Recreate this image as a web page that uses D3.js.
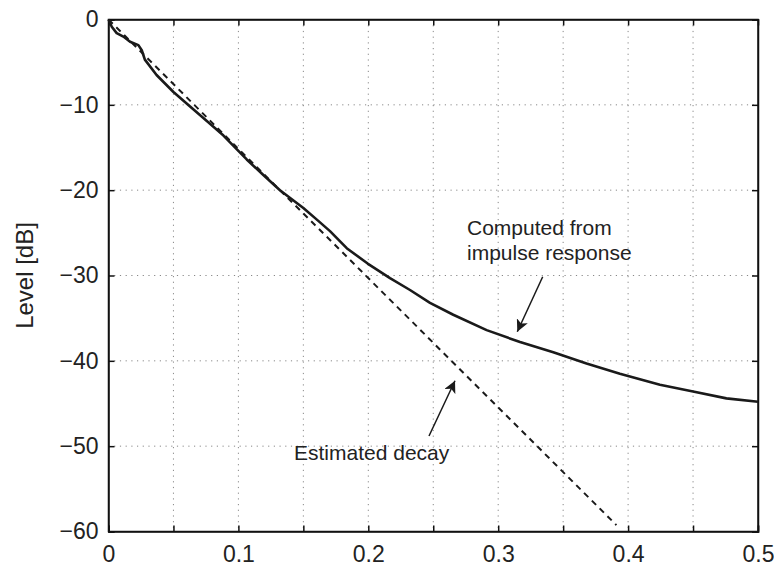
<!DOCTYPE html>
<html>
<head>
<meta charset="utf-8">
<script src="https://cdn.jsdelivr.net/npm/d3@7"></script>
<style>
  body { margin: 0; background: #fff; }
  text { font-family: "Liberation Sans", Arial, sans-serif; fill: #222; }
</style>
</head>
<body>
<div id="chart"></div>
<script>
// decay curve (time in s, level in dB)
const decayTime = [0, 0.0025, 0.0063, 0.0114, 0.0166, 0.023, 0.0256, 0.028, 0.037, 0.05,
    0.0628, 0.0757, 0.0885, 0.0962, 0.1064, 0.119, 0.132, 0.15, 0.1615, 0.1705,
    0.1834, 0.1995, 0.2167, 0.2321, 0.2475, 0.2654, 0.2911, 0.3168, 0.3424, 0.368,
    0.3937, 0.4245, 0.45, 0.4757, 0.5]
const decayLevel = [0, -0.84, -1.6, -2.0, -2.6, -3.0, -3.6, -4.7, -6.5, -8.5,
    -10.2, -11.9, -13.6, -14.8, -16.4, -18.2, -20.0, -22.1, -23.6, -24.8,
    -26.8, -28.6, -30.3, -31.7, -33.2, -34.6, -36.4, -37.8, -39.0, -40.3,
    -41.5, -42.8, -43.6, -44.4, -44.8]

// straight-line estimate
const fitTime = [0, 0.391]
const fitLevel = [0, -59.25]

const xTicks = [0, 0.1, 0.2, 0.3, 0.4, 0.5]
const xGrid = [0.05, 0.1, 0.15, 0.2, 0.25, 0.3, 0.35, 0.4, 0.45]
const yTicks = [0, -10, -20, -30, -40, -50, -60]

// set the dimensions and margins of the graph
let margin = {top: 19.5, right: 16, bottom: 34.5, left: 108.5},
    width = 774 - margin.left - margin.right,
    height = 566 - margin.top - margin.bottom;

let svg = d3.select("#chart")
    .append("svg")
    .attr("width", 774)
    .attr("height", 566)
    .append("g")
    .attr("transform", "translate(" + margin.left + "," + margin.top + ")");

const x = d3.scaleLinear().domain([0, 0.5]).range([0, width])
const y = d3.scaleLinear().domain([-60, 0]).range([height, 0])

// dotted grid
svg.append("g")
    .selectAll("line")
    .data(xGrid)
    .join("line")
    .attr("x1", d => x(d)).attr("x2", d => x(d))
    .attr("y1", 0).attr("y2", height)
    .attr("stroke", "#888").attr("stroke-width", 1)
    .attr("stroke-dasharray", "1.2,4.5")
svg.append("g")
    .selectAll("line")
    .data(yTicks.slice(1, -1))
    .join("line")
    .attr("x1", 0).attr("x2", width)
    .attr("y1", d => y(d)).attr("y2", d => y(d))
    .attr("stroke", "#888").attr("stroke-width", 1)
    .attr("stroke-dasharray", "1.2,4.5")

// axes, ticks pointing inside
const tickFmt = d => d3.format("")(d).replace("-", "\u2212")
svg.append("g")
    .attr("transform", "translate(0," + height + ")")
    .call(d3.axisBottom(x).tickValues(xGrid.concat([0, 0.5])).tickSize(-6).tickPadding(14)
        .tickFormat(d => xTicks.some(t => Math.abs(t - d) < 1e-9) ? d3.format("")(d) : ""))
svg.append("g")
    .call(d3.axisTop(x).tickValues(xGrid).tickSize(-6).tickFormat(""))
svg.append("g")
    .call(d3.axisLeft(y).tickValues(yTicks).tickSize(-6).tickPadding(10).tickFormat(tickFmt))
svg.append("g")
    .attr("transform", "translate(" + width + ",0)")
    .call(d3.axisRight(y).tickValues(yTicks).tickSize(-6).tickFormat(""))

svg.selectAll(".domain, .tick line").attr("stroke", "#111").attr("stroke-width", 1.5)
svg.selectAll(".tick text").style("font-size", "23px").attr("fill", "#222")

svg.append("rect")
    .attr("width", width).attr("height", height)
    .attr("fill", "none").attr("stroke", "#111").attr("stroke-width", 1.5)

// lines
const line = d3.line().x(d => x(d[0])).y(d => y(d[1]))
svg.append("path")
    .datum(d3.zip(fitTime, fitLevel))
    .attr("d", line)
    .attr("fill", "none").attr("stroke", "#1a1a1a")
    .attr("stroke-width", 2).attr("stroke-dasharray", "6,5")
svg.append("path")
    .datum(d3.zip(decayTime, decayLevel))
    .attr("d", line)
    .attr("fill", "none").attr("stroke", "#1a1a1a")
    .attr("stroke-width", 2.6).attr("stroke-linejoin", "round")

// y label
svg.append("text")
    .attr("transform", "translate(" + (33 - margin.left) + "," + (height / 2) + ") rotate(-90)")
    .attr("text-anchor", "middle")
    .style("font-size", "24px")
    .text("Level [dB]")

// annotations
const defs = svg.append("defs")
defs.append("marker")
    .attr("id", "head")
    .attr("viewBox", "0 0 10 10")
    .attr("refX", 10).attr("refY", 5)
    .attr("markerWidth", 12).attr("markerHeight", 12)
    .attr("markerUnits", "userSpaceOnUse")
    .attr("orient", "auto")
    .append("path")
    .attr("d", "M0,0 L10,5 L0,10 L2.5,5 Z")
    .attr("fill", "#1a1a1a")

const ann = svg.append("g").attr("transform", "translate(" + (-margin.left) + "," + (-margin.top) + ")")
const label1 = ann.append("text").attr("x", 467).attr("y", 235).style("font-size", "21px")
label1.append("tspan").attr("x", 467).text("Computed from")
label1.append("tspan").attr("x", 467).attr("dy", 25).text("impulse response")
ann.append("line")
    .attr("x1", 542.7).attr("y1", 276.7).attr("x2", 517.3).attr("y2", 331.7)
    .attr("stroke", "#1a1a1a").attr("stroke-width", 1.5).attr("marker-end", "url(#head)")

ann.append("text").attr("x", 294).attr("y", 460).style("font-size", "21px").text("Estimated decay")
ann.append("line")
    .attr("x1", 429).attr("y1", 436).attr("x2", 455).attr("y2", 380.7)
    .attr("stroke", "#1a1a1a").attr("stroke-width", 1.5).attr("marker-end", "url(#head)")
</script>
</body>
</html>
